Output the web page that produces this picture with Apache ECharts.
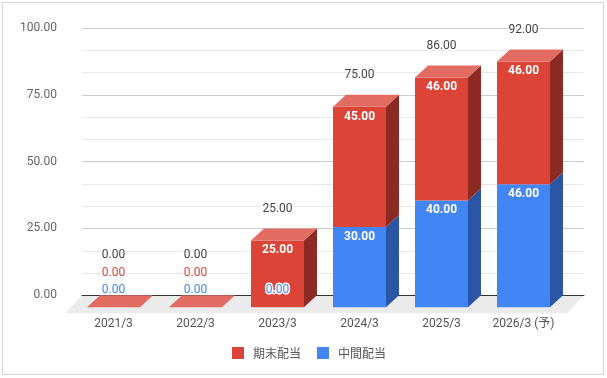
<!DOCTYPE html>
<html><head><meta charset="utf-8">
<script src="https://cdn.jsdelivr.net/npm/echarts@6/dist/echarts.min.js"></script>
<style>html,body{margin:0;padding:0;background:#fff}#c{width:607px;height:378px}</style>
</head><body><div id="c"></div>
<script>
const categories = ['2021/3', '2022/3', '2023/3', '2024/3', '2025/3', '2026/3 (予)'];
const interim = [0, 0, 0, 30, 40, 46];      // 中間配当
const yearEnd = [0, 0, 25, 45, 46, 46];     // 期末配当
const totals = [0, 0, 25, 75, 86, 92];
const seriesNames = ['期末配当', '中間配当'];

const FONT = 'Roboto, "Noto Sans CJK JP", sans-serif';
const DX = 13, DY = -12;
const RED = {front: '#db4437', side: '#8d2a23', top: '#e26b62'};
const BLUE = {front: '#4285f4', side: '#2a56a5', top: '#7aa9f7'};

function segRender(col) {
  return function (params, api) {
    const i = api.value(0), s = api.value(1), e = api.value(2);
    const pS = api.coord([i, s]), pE = api.coord([i, e]);
    const w = api.size([1, 0])[0] * 0.646;
    const xl = pS[0] - w / 2, xr = pS[0] + w / 2, yb = pS[1], yt = pE[1];
    const children = [];
    if (e - s > 0) {
      children.push({type: 'rect', shape: {x: xl, y: yt, width: w, height: yb - yt}, style: {fill: col.front}});
      children.push({type: 'polygon', shape: {points: [[xr, yb], [xr + DX, yb + DY], [xr + DX, yt + DY], [xr, yt]]}, style: {fill: col.side}});
    }
    if (api.value(3)) {
      children.push({type: 'polygon', shape: {points: [[xl, yt], [xr, yt], [xr + DX, yt + DY], [xl + DX, yt + DY]]}, style: {fill: col.top}});
    }
    return {type: 'group', children};
  };
}

function txt(text, x, y, fill, bold, halo) {
  const st = {text, x, y, align: 'center', verticalAlign: 'middle', fill, fontSize: 12, fontFamily: FONT, fontWeight: bold ? 'bold' : 'normal'};
  if (halo) { st.stroke = '#fff'; st.lineWidth = 3; }
  return {type: 'text', style: st};
}

function labelRender(params, api) {
  const i = api.value(0), a = api.value(1), b = api.value(2), t = api.value(3);
  const base = api.coord([i, 0]);
  const cx = base[0];
  const ch = [];
  let lowest = Infinity;
  const STEP = 17.2;
  // interim (blue)
  if (a > 0) ch.push(txt(a.toFixed(2), cx, api.coord([i, a])[1] + 10, '#fff', true, false));
  else { const y = base[1] - STEP; lowest = Math.min(lowest, y); ch.push(txt('0.00', cx, y, BLUE.front, false, true)); }
  // year-end (red)
  if (b > 0) ch.push(txt(b.toFixed(2), cx, api.coord([i, t])[1] + 10, '#fff', true, false));
  else { const k = a > 0 ? 1 : 2; const y = api.coord([i, a])[1] - STEP * k; lowest = Math.min(lowest, y); ch.push(txt('0.00', cx, y, RED.front, false, true)); }
  // total
  const ty = Math.min(api.coord([i, t])[1] - 31.5, lowest - 17.5);
  ch.push(txt(t.toFixed(2), cx, ty, '#444', false, true));
  return {type: 'group', children: ch};
}

const chart = echarts.init(document.getElementById('c'), null, {renderer: 'canvas'});
chart.setOption({
  animation: false,
  backgroundColor: '#fff',
  graphic: [{type: 'rect', shape: {x: 2.5, y: 2.5, width: 601, height: 372}, style: {fill: 'none', stroke: '#d6d6d6', lineWidth: 1}, z: -10}],
  legend: {
    data: seriesNames, left: 227, top: 342, icon: 'rect', itemWidth: 12, itemHeight: 12, itemGap: 16,
    textStyle: {color: '#555', fontSize: 12, fontFamily: '"Noto Sans CJK JP", sans-serif', padding: [0, 0, 0, 4]}
  },
  grid: [
    {left: 82, top: 28, width: 502, height: 267.3},
    {left: 72.5, top: 40, width: 492, height: 267.3}
  ],
  xAxis: [
    {gridIndex: 0, type: 'value', min: 0, max: 1, z: 1, axisLine: {show: true, lineStyle: {color: '#333', width: 1}}, axisTick: {show: false}, axisLabel: {show: false}, splitLine: {show: false}},
    {gridIndex: 1, type: 'category', data: categories, axisLine: {show: false}, axisTick: {show: false},
      axisLabel: {margin: 11, color: '#555', fontSize: 12, fontFamily: FONT}}
  ],
  yAxis: [
    {gridIndex: 0, type: 'value', min: 0, max: 100, interval: 25,
      axisLine: {show: false}, axisTick: {show: false},
      axisLabel: {margin: 25, color: '#666', fontSize: 12, fontFamily: FONT, formatter: v => v.toFixed(2)},
      splitLine: {lineStyle: {color: '#cccccc'}},
      minorTick: {show: false, splitNumber: 3},
      minorSplitLine: {show: true, lineStyle: {color: '#e6e6e6'}}},
    {gridIndex: 1, type: 'value', min: 0, max: 100, show: false, splitLine: {show: false}}
  ],
  series: [
    {type: 'custom', name: 'floor', xAxisIndex: 0, yAxisIndex: 0, z: 0, silent: true,
      data: [[0, 0]],
      renderItem: function (params, api) {
        const cs = params.coordSys;
        const x0 = cs.x, x1 = cs.x + cs.width, yb = cs.y + cs.height;
        return {type: 'polygon', shape: {points: [[x0 - 17, yb + 18], [x1 - 17, yb + 18], [x1, yb], [x0, yb]]}, style: {fill: '#ebebeb'}};
      }},
    {type: 'custom', name: '中間配当', xAxisIndex: 1, yAxisIndex: 1, z: 2, itemStyle: {color: BLUE.front},
      data: categories.map((c, i) => [i, 0, interim[i], (yearEnd[i] === 0 && interim[i] > 0) ? 1 : 0]),
      renderItem: segRender(BLUE)},
    {type: 'custom', name: '期末配当', xAxisIndex: 1, yAxisIndex: 1, z: 2, itemStyle: {color: RED.front},
      data: categories.map((c, i) => [i, interim[i], interim[i] + yearEnd[i], 1]),
      renderItem: segRender(RED)},
    {type: 'custom', name: 'labels', xAxisIndex: 1, yAxisIndex: 1, z: 5, silent: true,
      data: categories.map((c, i) => [i, interim[i], yearEnd[i], totals[i]]),
      renderItem: labelRender}
  ]
});
</script>
</body></html>
